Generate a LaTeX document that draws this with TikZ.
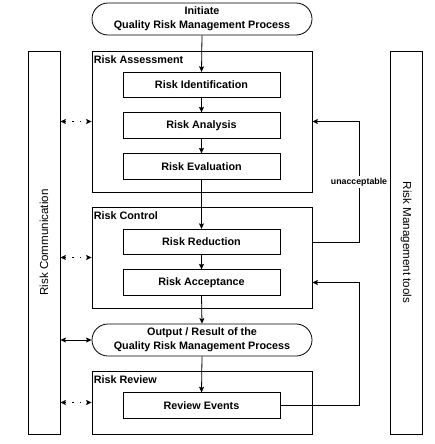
\documentclass[tikz,border=0pt]{standalone}
\usepackage{fontspec}
\setmainfont{Liberation Sans}
\usetikzlibrary{arrows.meta,shapes.misc,calc}
\begin{document}
\begin{tikzpicture}[x=1pt,y=-1pt,
  every node/.style={inner sep=0pt},
  ln/.style={line width=0.8pt},
  stepbox/.style={draw, ln, minimum width=157pt, minimum height=25.5pt, font=\bfseries\fontsize{10.8}{12}\selectfont},
  groupbox/.style={draw, ln, minimum width=220pt},
  term/.style={draw, ln, rounded rectangle, minimum width=220pt, minimum height=32pt, align=center, font=\bfseries\fontsize{10.8}{14}\selectfont},
  panel/.style={draw, ln, minimum width=32pt, minimum height=383pt},
  grouplabel/.style={anchor=base west, font=\bfseries\fontsize{10.8}{12}\selectfont},
  sidelabel/.style={font=\fontsize{11.6}{13}\selectfont},
  arr/.style={ln, -{Stealth[length=5.5pt,width=5pt,inset=1pt]}},
  darr/.style={ln, dash pattern=on 1.5pt off 6pt, {Stealth[length=5.5pt,width=5pt,inset=1pt]}-{Stealth[length=5.5pt,width=5pt,inset=1pt]}},
  sarr/.style={ln, {Stealth[length=5.5pt,width=5pt,inset=1pt]}-{Stealth[length=5.5pt,width=5pt,inset=1pt]}}]
\useasboundingbox (0,0) rectangle (434,444);

% panels
\node[panel] (comm) at (44,242.5) {};
\node[panel] (tools) at (406,242.5) {};
\node[sidelabel, rotate=90] (commlabel) at (comm.center) {Risk Communication};
\node[sidelabel, rotate=-90] (toolslabel) at (tools.center) {Risk Management tools};

% terminals
\node[term] (init) at (202,19) {Initiate\\Quality Risk Management Process};
\node[term] (out) at (202,340) {Output / Result of the\\Quality Risk Management Process};

% groups
\node[groupbox, minimum height=141pt] (assess) at (202,121.5) {};
\node[groupbox, minimum height=101pt] (control) at (202,257.5) {};
\node[groupbox, minimum height=63pt] (review) at (202,402.5) {};
\node[grouplabel] (assesslabel) at ($(assess.north west)+(2,12.5)$) {Risk Assessment};
\node[grouplabel] (controllabel) at ($(control.north west)+(2,12.5)$) {Risk Control};
\node[grouplabel] (reviewlabel) at ($(review.north west)+(2,12.5)$) {Risk Review};

% steps
\node[stepbox] (ident) at (201.5,85) {Risk Identification};
\node[stepbox] (anal) at (201.5,125.5) {Risk Analysis};
\node[stepbox] (eval) at (201.5,166.5) {Risk Evaluation};
\node[stepbox] (red) at (201.5,242) {Risk Reduction};
\node[stepbox] (acc) at (201.5,282.5) {Risk Acceptance};
\node[stepbox] (events) at (201.5,405.5) {Review Events};

% main flow
\draw[arr] (init.south) -- (ident.north);
\draw[arr] (ident.south) -- (anal.north);
\draw[arr] (anal.south) -- (eval.north);
\draw[arr] (eval.south) -- (red.north);
\draw[arr] (red.south) -- (acc.north);
\draw[arr] (acc.south) -- (out.north);
\draw[arr] (out.south) -- (events.north);

% feedback loops
\coordinate (col) at (359,0);
\draw[arr] (red.east -| control.east) -- (red.east -| col) |- (assess.east);
\draw[arr] (events.east) -- (events.east -| col) |- (acc.east -| control.east);
\node[fill=white, inner sep=1.5pt, font=\bfseries\fontsize{8.8}{10}\selectfont] (unacc) at (359,182) {unacceptable};

% communication
\draw[darr] (comm.east |- assess.west) -- (assess.west);
\draw[darr] (comm.east |- control.west) -- (control.west);
\draw[sarr] (comm.east |- out.west) -- (out.west);
\draw[darr] (comm.east |- review.west) -- (review.west);
\end{tikzpicture}
\end{document}
